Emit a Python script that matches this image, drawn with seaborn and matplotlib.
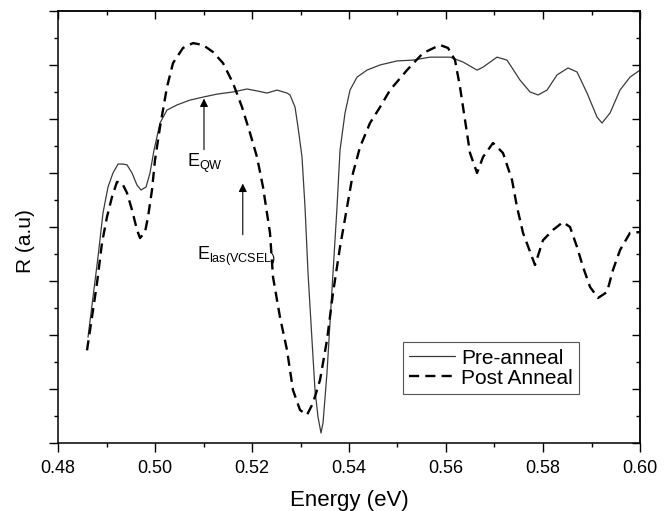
import numpy as np
import pandas as pd
import matplotlib
matplotlib.use("Agg")
import matplotlib.pyplot as plt
from matplotlib.ticker import MultipleLocator
import seaborn as sns

# ---- data ----
pre_energy = [0.48619, 0.48722, 0.48825, 0.48928, 0.49031, 0.49134, 0.49237, 0.4934, 0.49423,
              0.49526, 0.49629, 0.49711, 0.49815, 0.49897, 0.4998, 0.50103, 0.50247, 0.50454,
              0.50722, 0.5099, 0.51278, 0.51608, 0.51897, 0.521, 0.5231, 0.52516, 0.52722,
              0.52784, 0.52887, 0.52949, 0.53031, 0.53093, 0.53155, 0.53237, 0.53299, 0.53361,
              0.53423, 0.53464, 0.53546, 0.53608, 0.5367, 0.53753, 0.53815, 0.53918, 0.54021,
              0.54165, 0.54371, 0.54639, 0.5499, 0.5532, 0.5567, 0.56083, 0.56351, 0.5664,
              0.56764, 0.57052, 0.57258, 0.57526, 0.57733, 0.57898, 0.58083, 0.58289, 0.58516,
              0.58702, 0.58908, 0.59114, 0.59217, 0.59382, 0.59588, 0.59794, 0.6]
pre_R = [3.91, 5.40, 6.88, 8.51, 9.47, 9.99, 10.32, 10.32, 10.29,
         9.99, 9.54, 9.36, 9.47, 9.99, 10.84, 11.84, 12.32, 12.51,
         12.69, 12.80, 12.91, 12.99, 13.10, 13.03, 12.95, 13.06, 12.95,
         12.88, 12.43, 11.69, 10.58, 8.73, 6.29, 3.80, 1.95, 0.95,
         0.36, 0.73, 2.58, 4.43, 6.29, 8.73, 10.84, 12.21, 13.06,
         13.54, 13.80, 13.99, 14.14, 14.17, 14.28, 14.28, 14.10, 13.80,
         13.91, 14.28, 14.17, 13.43, 12.99, 12.88, 13.06, 13.62, 13.88,
         13.73, 12.95, 12.06, 11.84, 12.21, 13.06, 13.54, 13.80]

post_energy = [0.48598, 0.48701, 0.48804, 0.48907, 0.4901, 0.49113, 0.49216, 0.4932, 0.49423,
               0.49526, 0.49629, 0.49691, 0.49794, 0.49856, 0.49938, 0.5, 0.50103, 0.50247,
               0.50371, 0.50577, 0.50784, 0.5099, 0.51196, 0.51402, 0.51608, 0.51794, 0.51959,
               0.52103, 0.52227, 0.52371, 0.52433, 0.52577, 0.52722, 0.52845, 0.5299, 0.53134,
               0.53258, 0.53402, 0.53546, 0.5367, 0.53815, 0.5396, 0.54083, 0.54227, 0.54433,
               0.5464, 0.54846, 0.55196, 0.55526, 0.55877, 0.56041, 0.56186, 0.56289, 0.56392,
               0.56495, 0.5664, 0.56763, 0.56969, 0.57175, 0.57361, 0.57464, 0.57588, 0.57835,
               0.58, 0.58206, 0.58412, 0.58557, 0.58701, 0.58825, 0.5897, 0.59134, 0.5932,
               0.59443, 0.5959, 0.59794, 0.6]
post_R = [3.42, 4.65, 5.91, 7.40, 8.36, 9.10, 9.66, 9.62, 9.25,
          8.62, 7.88, 7.58, 7.80, 8.36, 9.36, 10.47, 11.69, 13.17,
          14.06, 14.62, 14.80, 14.73, 14.47, 14.06, 13.32, 12.43, 11.47,
          10.58, 9.47, 7.77, 6.14, 4.65, 3.43, 1.95, 1.21, 1.03,
          1.47, 2.32, 3.80, 5.54, 7.25, 8.73, 9.99, 10.95, 11.84,
          12.43, 13.06, 13.80, 14.43, 14.73, 14.62, 14.17, 13.17, 11.95,
          10.73, 9.99, 10.58, 11.10, 10.73, 9.73, 8.73, 7.77, 6.58,
          7.50, 7.88, 8.17, 7.99, 7.25, 6.51, 5.77, 5.36, 5.58,
          6.40, 7.14, 7.77, 7.80]

series_labels = ["Pre-anneal", "Post Anneal"]
x_ticks = [0.48, 0.50, 0.52, 0.54, 0.56, 0.58, 0.60]
x_tick_labels = ["0.48", "0.50", "0.52", "0.54", "0.56", "0.58", "0.60"]
x_label = "Energy (eV)"
y_label = "R (a.u)"

# ---- style ----
sns.set_theme(style="ticks")
plt.rcParams["font.family"] = ["Liberation Sans", "DejaVu Sans"]
plt.rcParams["mathtext.fontset"] = "custom"
plt.rcParams["mathtext.rm"] = "Liberation Sans"
plt.rcParams["mathtext.it"] = "Liberation Sans"
plt.rcParams["text.color"] = "black"
plt.rcParams["axes.labelcolor"] = "black"
plt.rcParams["xtick.color"] = "black"
plt.rcParams["ytick.color"] = "black"

fig = plt.figure(figsize=(6.70, 5.11), dpi=100)
ax = fig.add_axes([58 / 670, 1 - 442.7 / 511, 582 / 670, 432 / 511])

pre_df = pd.DataFrame({"E": pre_energy, "R": pre_R})
post_df = pd.DataFrame({"E": post_energy, "R": post_R})

sns.lineplot(data=pre_df, x="E", y="R", ax=ax, color="#3a3a3a", linewidth=0.9,
             sort=False, estimator=None, label=series_labels[0])
sns.lineplot(data=post_df, x="E", y="R", ax=ax, color="black", linewidth=1.7,
             linestyle=(0, (4.3, 2.6)), sort=False, estimator=None, label=series_labels[1])

ax.set_xlim(0.48, 0.60)
ax.set_ylim(0, 16)
ax.set_xticks(x_ticks)
ax.set_xticklabels(x_tick_labels)
ax.xaxis.set_minor_locator(MultipleLocator(0.01))
ax.yaxis.set_major_locator(MultipleLocator(2))
ax.yaxis.set_minor_locator(MultipleLocator(1))
ax.tick_params(axis="both", which="major", direction="out", length=6.5, width=1.0,
               labelsize=13, color="black", labelcolor="black", pad=6)
ax.tick_params(axis="both", which="minor", direction="out", length=3.2, width=1.0, color="black")
ax.tick_params(axis="y", which="both", labelleft=False)
for s in ax.spines.values():
    s.set_visible(True)
    s.set_linewidth(1.1)
    s.set_color("black")

secx = ax.secondary_xaxis("top")
secx.set_xticks(x_ticks)
secx.xaxis.set_minor_locator(MultipleLocator(0.01))
secx.tick_params(which="major", direction="in", length=5.5, width=1.0, labeltop=False)
secx.tick_params(which="minor", direction="in", length=3.0, width=1.0)
secx.spines["top"].set_linewidth(1.1)

secy = ax.secondary_yaxis("right")
secy.yaxis.set_major_locator(MultipleLocator(2))
secy.yaxis.set_minor_locator(MultipleLocator(1))
secy.tick_params(which="major", direction="in", length=5.5, width=1.0, labelright=False)
secy.tick_params(which="minor", direction="in", length=3.0, width=1.0)
secy.spines["right"].set_linewidth(1.1)

ax.set_xlabel(x_label, fontsize=16, labelpad=9)
ax.set_ylabel(y_label, fontsize=15)
ax.yaxis.set_label_coords(-0.04, 0.467)

# annotations
ax.annotate("", xy=(0.5101, 12.85), xytext=(0.5101, 10.75),
            arrowprops=dict(arrowstyle="-|>", color="black", lw=0.8, mutation_scale=12))
ax.text(0.5067, 10.2, r"$\mathregular{E_{QW}}$", fontsize=13, ha="left", va="baseline")
ax.annotate("", xy=(0.5181, 9.7), xytext=(0.5181, 7.6),
            arrowprops=dict(arrowstyle="-|>", color="black", lw=0.8, mutation_scale=12))
ax.text(0.5086, 6.75, r"$\mathregular{E_{las(VCSEL)}}$", fontsize=13, ha="left", va="baseline")

leg = ax.legend(loc="lower left", bbox_to_anchor=(0.593, 0.113), borderaxespad=0,
                fontsize=15, frameon=True, fancybox=False, framealpha=1,
                edgecolor="#555555", handlelength=2.2, handletextpad=0.3,
                labelspacing=0.05, borderpad=0.3)
leg.get_frame().set_linewidth(0.8)

fig.savefig("out.png", dpi=100)
